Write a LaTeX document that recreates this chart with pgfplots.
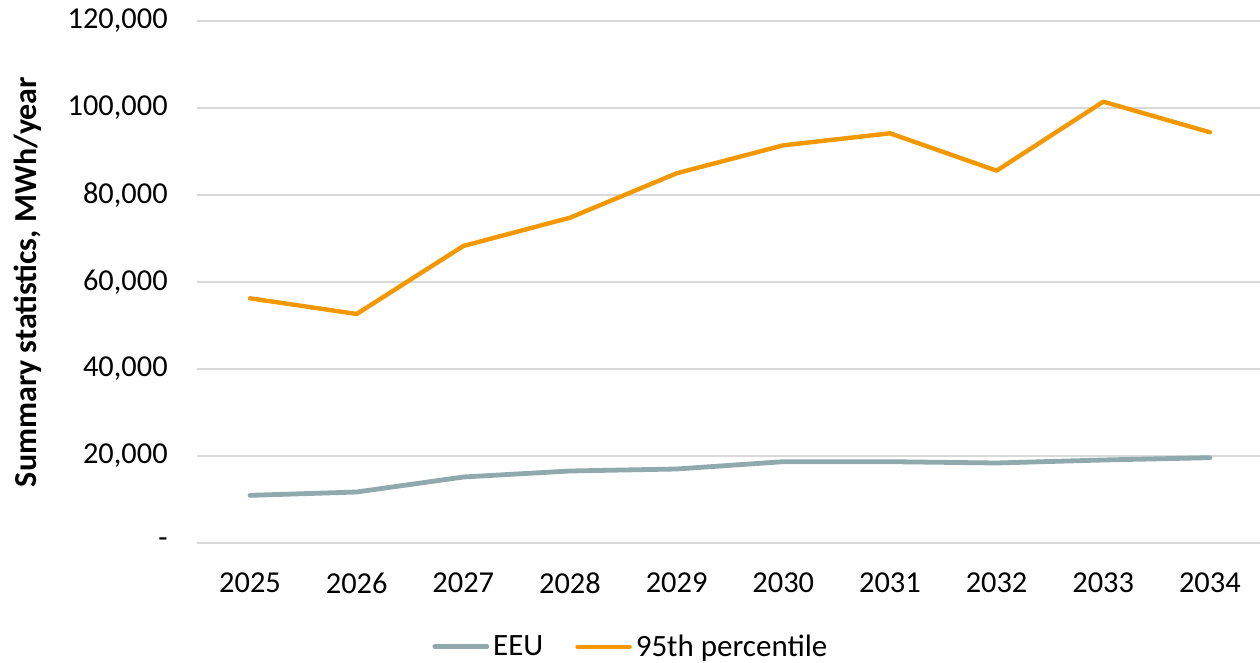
\documentclass[border=0pt]{standalone}
\usepackage{pgfplots}
\pgfplotsset{compat=1.18}
\usepackage{fontspec}
\setmainfont{Carlito}
\definecolor{eeu}{HTML}{8FA9AC}
\definecolor{pct}{HTML}{F39800}
\definecolor{gridc}{HTML}{D9D9D9}

\pgfplotstableread{
year eeu p95
2025 10950 56250
2026 11720 52650
2027 15170 68280
2028 16550 74780
2029 17010 84990
2030 18690 91420
2031 18690 94180
2032 18390 85590
2033 19080 101450
2034 19610 94410
}\datatable

\begin{document}
\begin{tikzpicture}
\useasboundingbox (-98.35pt,-60pt) rectangle (531.65pt,271.5pt);
\begin{axis}[
  scale only axis,
  width=533.3pt, height=261pt,
  xmin=2024.5, xmax=2034.5,
  ymin=0, ymax=120000,
  axis line style={draw=none},
  tick style={draw=none},
  scaled y ticks=false,
  ytick={0,20000,40000,60000,80000,100000,120000},
  yticklabels={{-},{20,000},{40,000},{60,000},{80,000},{100,000},{120,000}},
  xtick={2025,...,2034},
  xticklabels={2025,2026,2027,2028,2029,2030,2031,2032,2033,2034},
  ymajorgrids,
  grid style={gridc, line width=0.9pt},
  tick label style={font=\fontsize{15.2}{18}\selectfont, text=black},
  yticklabel style={anchor=east, xshift=-11pt},
  xticklabel style={anchor=center, yshift=-20pt},
  ylabel={\textbf{Summary statistics, MWh/year}},
  ylabel style={font=\fontsize{16}{19}\selectfont, at={(axis description cs:-0.158,0.5)}, anchor=center, rotate=0},
  legend columns=2,
  legend style={at={(0.408,-0.199)}, anchor=center, draw=none, fill=none,
    font=\fontsize{15.5}{18}\selectfont,
    /tikz/every even column/.append style={column sep=14pt}},
  legend image code/.code={\draw[#1, line cap=round] (0pt,0pt) -- (26pt,0pt);},
]
\addplot[eeu, line width=2.4pt, line join=round, line cap=round] table[x=year, y=eeu] {\datatable};
\addlegendentry{EEU}
\addplot[pct, line width=2.2pt, line join=round, line cap=round] table[x=year, y=p95] {\datatable};
\addlegendentry{95th percentile}
\end{axis}
\end{tikzpicture}
\end{document}
